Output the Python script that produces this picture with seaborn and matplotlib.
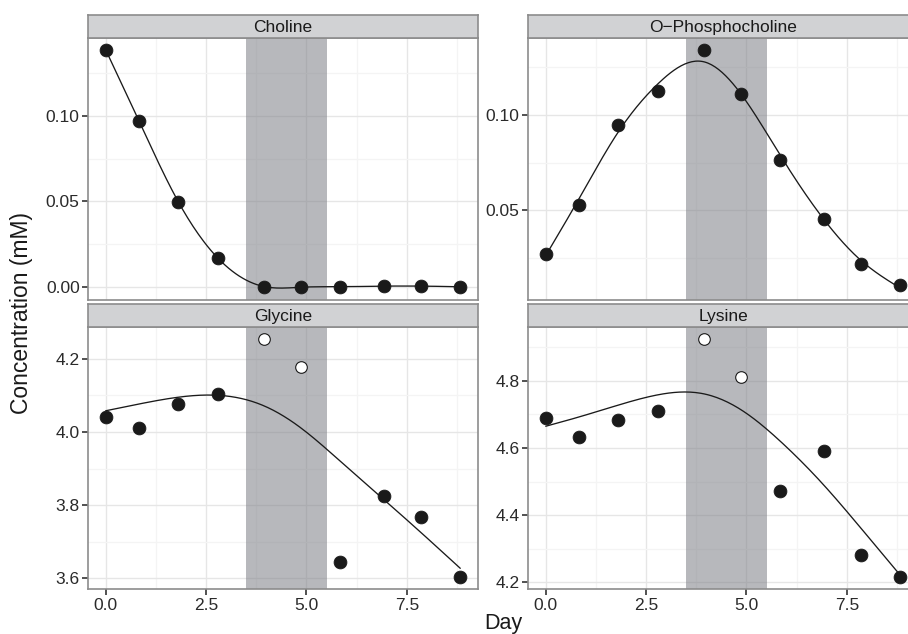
import numpy as np
import pandas as pd
import seaborn as sns
import matplotlib.pyplot as plt
from matplotlib.ticker import FixedLocator, FormatStrFormatter

sns.set_style("white")
plt.rcParams['font.family'] = ['Liberation Sans', 'DejaVu Sans']

# data
days = [0.0, 0.83, 1.81, 2.80, 3.93, 4.87, 5.84, 6.92, 7.84, 8.83]
choline = [0.1386, 0.0972, 0.0494, 0.0166, 0.0, 0.0, 0.0, 0.0004, 0.0004, 0.0]
phosphocholine = [0.0269, 0.0530, 0.0946, 0.1125, 0.1342, 0.1109, 0.0764, 0.0457, 0.0217, 0.0109]
glycine = [4.042, 4.010, 4.075, 4.104, 4.253, 4.177, 3.645, 3.824, 3.768, 3.603]
lysine = [4.690, 4.631, 4.683, 4.711, 4.923, 4.811, 4.471, 4.592, 4.282, 4.215]
outlier_glycine = [False, False, False, False, True, True, False, False, False, False]
outlier_lysine = outlier_glycine
no_outliers = [False] * 10

band = (3.5, 5.5)


# cubic smoothing spline (Reinsch), lambda picked by GCV
def smooth_spline(x, y, lam):
    t = np.asarray(x, float)
    y = np.asarray(y, float)
    n = len(t)
    h = np.diff(t)
    Q = np.zeros((n, n - 2))
    R = np.zeros((n - 2, n - 2))
    for k in range(n - 2):
        Q[k, k] = 1 / h[k]
        Q[k + 1, k] = -1 / h[k] - 1 / h[k + 1]
        Q[k + 2, k] = 1 / h[k + 1]
        R[k, k] = (h[k] + h[k + 1]) / 3
        if k < n - 3:
            R[k, k + 1] = R[k + 1, k] = h[k + 1] / 6
    K = Q @ np.linalg.solve(R, Q.T)
    S = np.linalg.inv(np.eye(n) + lam * K)
    g = S @ y
    gam = np.zeros(n)
    gam[1:-1] = np.linalg.solve(R, Q.T @ g)
    return t, g, gam, S


def gcv_lambda(x, y):
    y = np.asarray(y, float)
    n = len(y)
    best = None
    for lam in np.logspace(-5, 4, 400):
        _, g, _, S = smooth_spline(x, y, lam)
        score = n * np.sum((y - g) ** 2) / (n - np.trace(S)) ** 2
        if best is None or score < best[0]:
            best = (score, lam)
    return best[1]


def spline_eval(t, g, gam, xs):
    out = []
    for xv in xs:
        i = min(np.searchsorted(t, xv, side='right') - 1, len(t) - 2)
        hi = t[i + 1] - t[i]
        a = xv - t[i]
        b = t[i + 1] - xv
        f = (a * g[i + 1] + b * g[i]) / hi - a * b / 6 * ((1 + a / hi) * gam[i + 1] + (1 + b / hi) * gam[i])
        out.append(f)
    return np.array(out)


panels = [
    ("Choline", choline, no_outliers, [0.00, 0.05, 0.10], [0.025, 0.075, 0.125], '%.2f'),
    ("O\u2212Phosphocholine", phosphocholine, no_outliers, [0.05, 0.10], [0.025, 0.075, 0.125], '%.2f'),
    ("Glycine", glycine, outlier_glycine, [3.6, 3.8, 4.0, 4.2], [3.7, 3.9, 4.1], '%.1f'),
    ("Lysine", lysine, outlier_lysine, [4.2, 4.4, 4.6, 4.8], [4.3, 4.5, 4.7, 4.9], '%.1f'),
]

W, H = 908, 634
fig = plt.figure(figsize=(W / 100, H / 100), dpi=100)

lefts = [88, 528]
tops = [38, 327.3]
pw, ph = 390, 262
strip_h = 23
edge = '#8c8c8c'

for i, (name, vals, outl, majors, minors, fmt) in enumerate(panels):
    r, c = divmod(i, 2)
    ax = fig.add_axes([lefts[c] / W, 1 - (tops[r] + ph) / H, pw / W, ph / H])
    sax = fig.add_axes([lefts[c] / W, 1 - tops[r] / H, pw / W, strip_h / H])

    df = pd.DataFrame({"day": days, "conc": vals, "outlier": outl})
    xs = np.linspace(min(days), max(days), 200)
    t, g, gam, _ = smooth_spline(days, vals, gcv_lambda(days, vals))
    fit = pd.DataFrame({"day": xs, "conc": spline_eval(t, g, gam, xs)})

    ax.axvspan(*band, color='#7d7f86', alpha=0.55, lw=0, zorder=1)
    sns.lineplot(data=fit, x="day", y="conc", ax=ax, color='#1a1a1a', lw=0.95, zorder=3)
    sns.scatterplot(data=df[~df.outlier], x="day", y="conc", ax=ax, color='#1a1a1a',
                    s=85, edgecolor='#1a1a1a', linewidth=0.6, zorder=4)
    sns.scatterplot(data=df[df.outlier], x="day", y="conc", ax=ax, color='white',
                    s=70, edgecolor='#1a1a1a', linewidth=0.8, zorder=4)

    ax.margins(x=0.05, y=0.05)
    ax.xaxis.set_major_locator(FixedLocator([0.0, 2.5, 5.0, 7.5]))
    ax.xaxis.set_minor_locator(FixedLocator([1.25, 3.75, 6.25, 8.75]))
    ax.yaxis.set_major_locator(FixedLocator(majors))
    ax.yaxis.set_minor_locator(FixedLocator(minors))
    ax.yaxis.set_major_formatter(FormatStrFormatter(fmt))
    ax.xaxis.set_major_formatter(FormatStrFormatter('%.1f'))
    ax.grid(which='major', color='#e6e6e6', lw=1.0, zorder=0)
    ax.grid(which='minor', color='#f4f4f4', lw=0.9, zorder=0)
    ax.set_axisbelow(True)
    ax.set_xlabel("")
    ax.set_ylabel("")
    ax.tick_params(which='major', axis='both', direction='out', length=4, width=1.2,
                   color='#333333', labelsize=12.5, labelcolor='#2a2a2a', pad=2, left=True, bottom=True)
    ax.tick_params(which='minor', length=0)
    if r == 0:
        ax.tick_params(axis='x', bottom=False, labelbottom=False)
    for s in ax.spines.values():
        s.set_color(edge)
        s.set_linewidth(1.2)

    sax.set_facecolor('#d1d2d4')
    sax.set_xticks([])
    sax.set_yticks([])
    for s in sax.spines.values():
        s.set_color(edge)
        s.set_linewidth(1.2)
    sax.text(0.5, 0.45, name, ha='center', va='center', fontsize=12.5,
             color='#1a1a1a', transform=sax.transAxes)

fig.text(22 / W, 1 - 313 / H, "Concentration (mM)", rotation=90, ha='center', va='center',
         fontsize=16.5, color='#1a1a1a')
fig.text(503 / W, 1 - 628.5 / H, "Day", ha='center', va='baseline', fontsize=15.5, color='#1a1a1a')

fig.savefig("out.png", dpi=100)
